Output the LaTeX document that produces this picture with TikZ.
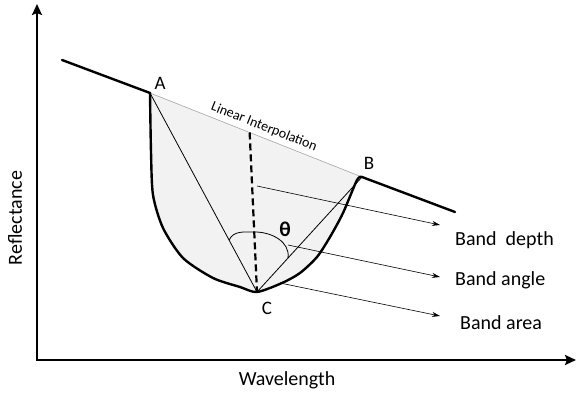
\documentclass[tikz,border=0pt]{standalone}
\usepackage{fontspec}
\setmainfont{Carlito}
\usetikzlibrary{arrows.meta,calc}

% outline of the absorption band, from A down to C and up to B
\newcommand{\bandcurve}{plot[smooth,tension=0.45] coordinates {(150,306) (151,247) (153,204) (163,171) (183,141) (213,121) (240,112) (257,107) (282,116) (300,126) (317,142) (330,162) (343,186) (357,219) (362,222)}}

\begin{document}
\begin{tikzpicture}[x=1pt,y=1pt,
  axis/.style={line width=2.4pt,{Stealth[length=11pt,width=10pt,inset=2pt]}-{Stealth[length=11pt,width=10pt,inset=2pt]}},
  spectrum/.style={line width=2.4pt,line cap=round,line join=round},
  thinline/.style={line width=0.8pt},
  pointer/.style={line width=0.6pt,-{Stealth[length=8pt,width=5pt]}},
  lbl/.style={font=\fontsize{20}{24}\selectfont,anchor=west,inner sep=0pt},
  ptlbl/.style={font=\fontsize{19}{22}\selectfont,inner sep=0pt}]
\useasboundingbox (0,0) rectangle (577,399);
% axes
\coordinate (ytip) at (37,395);
\coordinate (O) at (37,39);
\coordinate (xtip) at (576,39);
\draw[axis] (ytip) -- (O) -- (xtip);
\node[font=\fontsize{20}{24}\selectfont,rotate=90] (refl) at (15,181) {Reflectance};
\node[font=\fontsize{20}{24}\selectfont] (wave) at (287,19) {Wavelength};
% points of the spectrum
\coordinate (start) at (62,339);
\coordinate (A) at (150,306);
\coordinate (B) at (362,222);
\coordinate (end) at (455,187);
\coordinate (C) at (257,107);
% band area
\fill[gray!10] \bandcurve -- cycle;
\draw[gray!70,line width=0.6pt] (A) -- node[sloped,above=4pt,pos=0.52,text=black,font=\fontsize{14}{16}\selectfont,inner sep=0pt] (interp) {Linear Interpolation} (B);
\draw[thinline] (A) -- (C) -- (B);
\coordinate (D) at ($(A)!0.47!(B)$);
\draw[line width=2.2pt,dash pattern=on 7pt off 4pt] (D) -- (C);
% band angle
\coordinate (arcL) at ($(C)!59pt!(A)$);
\coordinate (arcT) at (255,167);
\coordinate (arcR) at ($(C)!46pt!(B)$);
\draw[thinline] (arcL) to[out=65,in=180] (arcT) to[out=0,in=82] (arcR);
\node[font=\fontsize{21}{24}\selectfont,inner sep=0pt] (theta) at (285,170) {\textbf{θ}};
% spectrum
\draw[spectrum] (start) -- (A);
\draw[spectrum] \bandcurve;
\draw[spectrum] (B) -- (end);
\node[ptlbl] (lA) at (160,316) {A};
\node[ptlbl] (lB) at (369,236) {B};
\node[ptlbl] (lC) at (267,91) {C};
% pointers to the features
\node[lbl] (depth) at (455,159) {Band~\ depth};
\node[lbl] (angle) at (455,119) {Band angle};
\node[lbl] (area) at (460,76) {Band area};
\coordinate (depthfrom) at (257,213);
\coordinate (anglefrom) at (288,154);
\coordinate (areafrom) at (280,116);
\coordinate (depthto) at (440,174);
\coordinate (angleto) at (440,122);
\coordinate (areato) at (440,83);
\draw[pointer] (depthfrom) -- (depthto);
\draw[pointer] (anglefrom) -- (angleto);
\draw[pointer] (areafrom) -- (areato);
\end{tikzpicture}
\end{document}
